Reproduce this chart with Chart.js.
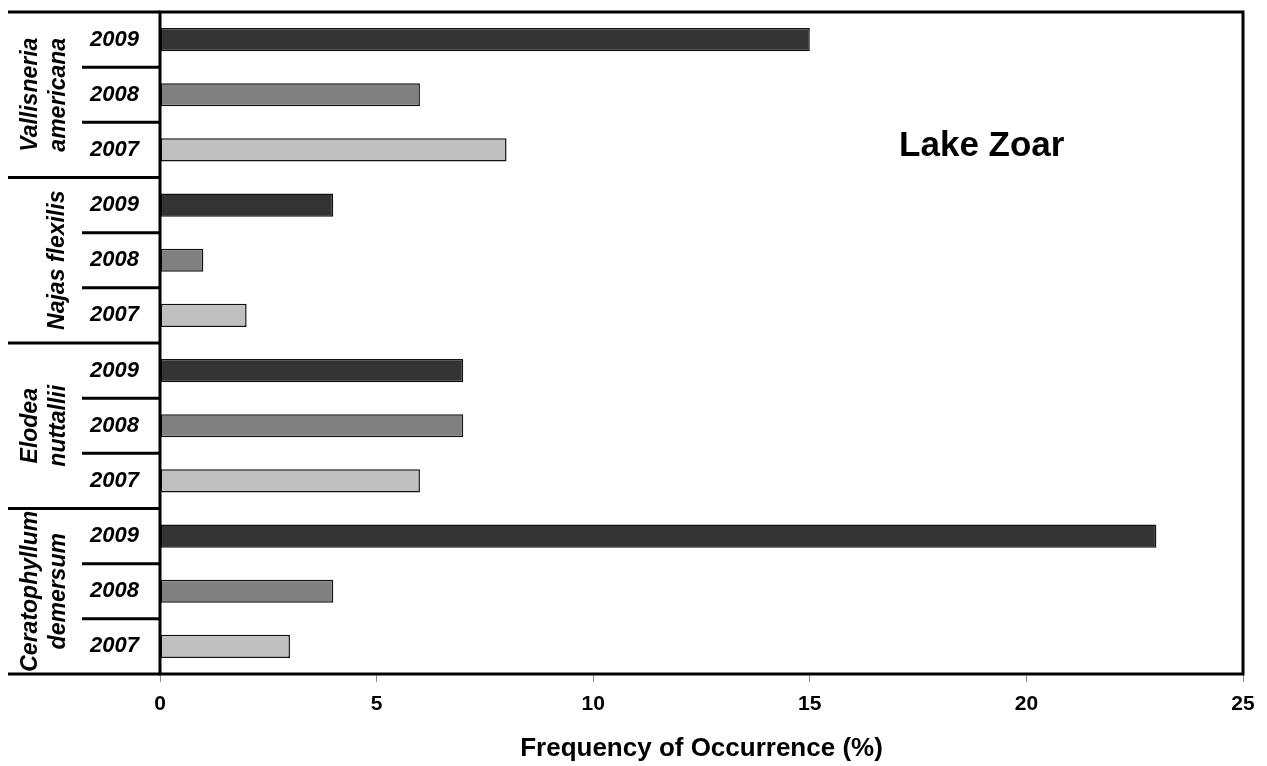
<!DOCTYPE html>
<html>
<head>
<meta charset="utf-8">
<script src="https://cdn.jsdelivr.net/npm/chart.js@4"></script>
<style>
  body { margin: 0; background: #fff; }
</style>
</head>
<body>
<canvas id="myChart" width="1267" height="766"></canvas>
<script>
// species groups (top to bottom) and the year rows inside each group
const species = [['Vallisneria', 'americana'], ['Najas flexilis'], ['Elodea', 'nuttallii'], ['Ceratophyllum', 'demersum']];
const years = ['2009', '2008', '2007'];
const freq2009 = [15, 4, 7, 23];
const freq2008 = [6, 1, 7, 4];
const freq2007 = [8, 2, 6, 3];
const xTicks = [0, 5, 10, 15, 20, 25];
const yearColors = ['#333333', '#808080', '#c0c0c0'];

const FONT = "'Liberation Sans', Arial, sans-serif";

var labels = [];
var values = [];
var colors = [];
species.forEach(function(sp, i) {
    var byYear = [freq2009[i], freq2008[i], freq2007[i]];
    years.forEach(function(y, j) {
        labels.push(y);
        values.push(byYear[j]);
        colors.push(yearColors[j]);
    });
});

const decorations = {
    id: 'decorations',
    afterDraw(chart) {
        const ctx = chart.ctx;
        const area = chart.chartArea;
        const yScale = chart.scales.y;
        const xScale = chart.scales.x;
        ctx.save();

        // frame round the plot
        ctx.strokeStyle = '#000';
        ctx.lineWidth = 3;
        ctx.strokeRect(area.left, area.top, area.right - area.left, area.bottom - area.top);

        // separators on the left: long ones between species, short ones between years
        var n = labels.length;
        for (var i = 0; i <= n; i++) {
            var y;
            if (i === 0) y = area.top;
            else if (i === n) y = area.bottom;
            else y = (yScale.getPixelForValue(i - 1) + yScale.getPixelForValue(i)) / 2;
            var x0 = (i % years.length === 0) ? 8 : 82;
            ctx.beginPath();
            ctx.moveTo(x0, y);
            ctx.lineTo(area.left, y);
            ctx.stroke();
        }

        // species names, rotated
        ctx.fillStyle = '#000';
        ctx.font = 'italic bold 23px ' + FONT;
        ctx.textAlign = 'center';
        ctx.textBaseline = 'alphabetic';
        species.forEach(function(sp, g) {
            var yc = yScale.getPixelForValue(g * years.length + 1);
            var baselines = sp.length === 2 ? [37, 65] : [64];
            sp.forEach(function(line, k) {
                ctx.save();
                ctx.translate(0, yc);
                ctx.rotate(-Math.PI / 2);
                ctx.fillText(line, 0, baselines[k]);
                ctx.restore();
            });
        });

        // lake name
        ctx.font = 'bold 35px ' + FONT;
        ctx.textBaseline = 'middle';
        ctx.fillText('Lake Zoar', xScale.getPixelForValue(18.97), yScale.getPixelForValue(2) - 4);
        ctx.restore();
    }
};

const ctx = document.getElementById('myChart');
new Chart(ctx, {
    type: 'bar',
    data: {
        labels: labels,
        datasets: [{
            data: values,
            backgroundColor: colors,
            borderColor: '#111',
            borderWidth: 1.5,
            borderSkipped: false,
            barPercentage: 0.42,
            categoryPercentage: 1.0
        }]
    },
    options: {
        indexAxis: 'y',
        responsive: false,
        animation: false,
        layout: { padding: { left: 0, right: 24, top: 12, bottom: 0 } },
        plugins: {
            legend: { display: false },
            tooltip: { enabled: false }
        },
        scales: {
            x: {
                min: 0,
                max: 25,
                afterFit: function(scale) { scale.height = 92; },
                afterBuildTicks: function(scale) {
                    scale.ticks = xTicks.map(function(v) { return { value: v }; });
                },
                grid: { drawOnChartArea: false, drawTicks: true, tickLength: 8, color: '#888', lineWidth: 1 },
                border: { display: false },
                ticks: {
                    color: '#000',
                    padding: 10,
                    maxRotation: 0,
                    font: { family: FONT, size: 21, weight: 'bold' }
                },
                title: {
                    display: true,
                    text: 'Frequency of Occurrence (%)',
                    color: '#000',
                    padding: { top: 0, bottom: 2 },
                    font: { family: FONT, size: 26, weight: 'bold' }
                }
            },
            y: {
                afterFit: function(scale) {
                    scale.width = 160;
                    scale.paddingTop = 0;
                    scale.paddingBottom = 0;
                },
                grid: { display: false, drawTicks: false },
                border: { display: false },
                ticks: {
                    color: '#000',
                    padding: 21,
                    font: { family: FONT, size: 22, weight: 'bold', style: 'italic' }
                }
            }
        }
    },
    plugins: [decorations]
});
</script>
</body>
</html>
